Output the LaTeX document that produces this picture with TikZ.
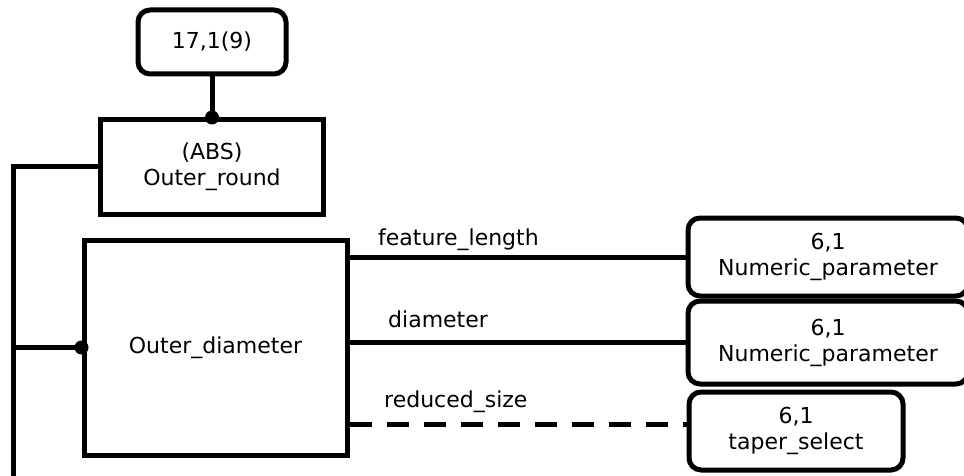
\documentclass[tikz,border=0pt]{standalone}
\usepackage{fontspec}
\setmainfont{DejaVu Sans}
\begin{document}
\begin{tikzpicture}[x=1pt,y=-1pt]
\tikzset{
  txt/.style={font=\fontsize{22}{26}\selectfont},
  frame/.style={txt, draw, line width=5pt, inner sep=0pt, align=center},
  rbox/.style={frame, rounded corners=12pt},
  wire/.style={line width=5pt},
  lbl/.style={txt, anchor=base west, inner sep=0pt},
  joint/.style={circle, fill, inner sep=0pt, minimum size=14pt}
}
\useasboundingbox (0,0) rectangle (964,476);
\clip (0,0) rectangle (964,476);

% entity boxes
\node[rbox, minimum width=148pt, minimum height=64pt] (top) at (212,42) {17,1(9)};
\node[frame, minimum width=223pt, minimum height=94pt] (abs) at (212,167) {(ABS)\\Outer\_round};
\node[frame, minimum width=263pt, minimum height=215pt] (od) at (215.5,347.5) {Outer\_diameter};
\node[rbox, minimum width=280pt, minimum height=78pt] (n1) at (828,257) {6,1\\Numeric\_parameter};
\node[rbox, minimum width=280pt, minimum height=83pt] (n2) at (828,342.5) {6,1\\Numeric\_parameter};
\node[rbox, minimum width=214pt, minimum height=78pt] (n3) at (796,431) {6,1\\taper\_select};

% supertype links
\coordinate (trunk) at (13,480);
\draw[wire] (top.south) -- (abs.north);
\node[joint] at (abs.north) {};
\draw[wire] (abs.west) -| (trunk);
\draw[wire] (od.west) -- (od.west -| trunk);
\node[joint] at (od.west) {};

% attribute links
\draw[wire] (od.east |- n1.west) -- (n1.west);
\draw[wire] (od.east |- n2.west) -- (n2.west);
\draw[wire, dash pattern=on 22pt off 15pt] ([yshift=7pt]n3.west -| od.east) -- ([yshift=7pt]n3.west);

% attribute labels
\node[lbl] (l1) at (378,245) {feature\_length};
\node[lbl] (l2) at (388,327) {diameter};
\node[lbl] (l3) at (384,407) {reduced\_size};
\end{tikzpicture}
\end{document}
